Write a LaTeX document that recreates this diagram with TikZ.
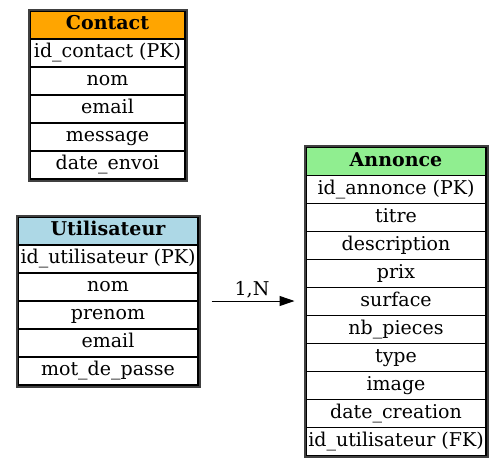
\documentclass[tikz,border=0pt]{standalone}
\usepackage{fontspec}
\setmainfont{DejaVu Serif}
\usetikzlibrary{positioning,fit,arrows.meta}
\definecolor{contactc}{HTML}{FFA500}
\definecolor{userc}{HTML}{ADD8E6}
\definecolor{annoncec}{HTML}{90EE90}
\newcommand{\cellfont}{\fontsize{19}{22}\selectfont}
\tikzset{
  field/.style={draw=black, line width=1.6pt, outer sep=0pt, inner sep=0pt,
    minimum height=28pt, text height=13pt, text depth=4pt, font=\cellfont},
  title/.style={field, font=\cellfont\bfseries},
  frame/.style={draw=black!75, line width=2pt, inner sep=1.5pt},
  narrow/.style={minimum width=155pt},
  wide/.style={minimum width=180pt},
}

\begin{document}
\begin{tikzpicture}[x=1pt,y=-1pt]
\useasboundingbox (0,0) rectangle (504,467);
% Contact
\node(c0) at (107.5,25)[title,narrow,fill=contactc] {Contact};
\node(c1)[field,narrow,below=0pt of c0] {id\_contact (PK)};
\node(c2)[field,narrow,below=0pt of c1] {nom};
\node(c3)[field,narrow,below=0pt of c2] {email};
\node(c4)[field,narrow,below=0pt of c3] {message};
\node(c5)[field,narrow,below=0pt of c4] {date\_envoi};
\node(contact)[frame,fit=(c0)(c5)] {};
% Utilisateur
\node(u0) at (108,231)[title,wide,fill=userc] {Utilisateur};
\node(u1)[field,wide,below=0pt of u0] {id\_utilisateur (PK)};
\node(u2)[field,wide,below=0pt of u1] {nom};
\node(u3)[field,wide,below=0pt of u2] {prenom};
\node(u4)[field,wide,below=0pt of u3] {email};
\node(u5)[field,wide,below=0pt of u4] {mot\_de\_passe};
\node(user)[frame,fit=(u0)(u5)] {};
% Annonce
\node(a0) at (396,161.5)[title,wide,fill=annoncec] {Annonce};
\node(a1)[field,wide,below=0pt of a0] {id\_annonce (PK)};
\node(a2)[field,wide,below=0pt of a1] {titre};
\node(a3)[field,wide,below=0pt of a2] {description};
\node(a4)[field,wide,below=0pt of a3] {prix};
\node(a5)[field,wide,below=0pt of a4] {surface};
\node(a6)[field,wide,below=0pt of a5] {nb\_pieces};
\node(a7)[field,wide,below=0pt of a6] {type};
\node(a8)[field,wide,below=0pt of a7] {image};
\node(a9)[field,wide,below=0pt of a8] {date\_creation};
\node(a10)[field,wide,below=0pt of a9] {id\_utilisateur (FK)};
\node(annonce)[frame,fit=(a0)(a10)] {};
% relation
\draw[-{Triangle[length=15pt,width=10pt]},line width=1pt,shorten <=11pt,shorten >=9pt]
  (user.east) -- (annonce.west |- user.east)
  node[midway,above=-1pt,font=\cellfont] {1,N};
\end{tikzpicture}
\end{document}
